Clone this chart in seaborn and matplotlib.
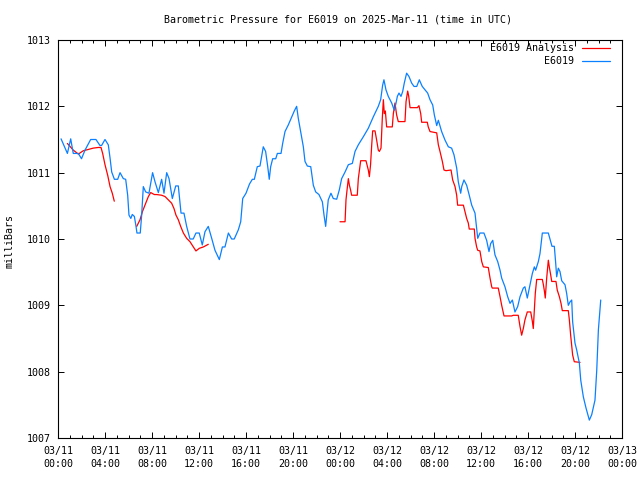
import matplotlib
matplotlib.use("Agg")
import matplotlib.pyplot as plt
from matplotlib.ticker import MultipleLocator
import seaborn as sns

# hours since 2025-03-11 00:00 UTC, pressure in mb
station_hours = [
    0.26, 0.80, 1.08, 1.30, 1.73, 2.00, 2.30, 2.78, 3.23, 3.57, 3.71, 4.00, 4.28, 4.43, 4.57,
    4.80, 5.08, 5.28, 5.56, 5.76, 5.93, 6.04, 6.20, 6.32, 6.50, 6.64, 6.72, 7.00, 7.12, 7.26,
    7.46, 7.74, 7.89, 8.05, 8.26, 8.54, 8.82, 9.02, 9.25, 9.45, 9.73, 10.02, 10.24, 10.47,
    10.72, 10.95, 11.23, 11.51, 11.74, 12.02, 12.28, 12.51, 12.79, 13.08, 13.36, 13.73, 13.99,
    14.21, 14.50, 14.78, 15.00, 15.35, 15.55, 15.72, 16.00, 16.30, 16.54, 16.71, 16.96, 17.19,
    17.47, 17.67, 17.85, 17.98, 18.10, 18.27, 18.53, 18.67, 18.98, 19.12, 19.32, 19.60, 19.89,
    20.11, 20.31, 20.45, 20.65, 20.88, 21.02, 21.22, 21.51, 21.73, 21.93, 22.21, 22.50, 22.64,
    22.78, 22.87, 23.00, 23.23, 23.43, 23.72, 23.94, 24.14, 24.43, 24.71, 25.05, 25.28, 25.56,
    25.98, 26.41, 26.83, 27.26, 27.46, 27.63, 27.74, 27.91, 28.11, 28.40, 28.62, 28.77, 28.88,
    29.02, 29.19, 29.33, 29.47, 29.67, 29.87, 30.10, 30.30, 30.53, 30.75, 31.00, 31.23, 31.46,
    31.66, 31.89, 32.03, 32.23, 32.37, 32.65, 32.94, 33.22, 33.50, 33.70, 33.93, 34.07, 34.27,
    34.36, 34.55, 34.78, 35.00, 35.21, 35.49, 35.63, 35.72, 35.91, 36.25, 36.48, 36.68, 36.82,
    37.00, 37.19, 37.42, 37.62, 37.76, 38.04, 38.27, 38.47, 38.67, 38.89, 39.12, 39.32, 39.60,
    39.74, 39.94, 40.17, 40.37, 40.54, 40.65, 40.88, 41.02, 41.22, 41.73, 41.93, 42.04, 42.24,
    42.36, 42.44, 42.58, 42.72, 42.87, 43.15, 43.29, 43.43, 43.57, 43.72, 43.80, 44.00, 44.14,
    44.37, 44.49, 44.71, 44.94, 45.22, 45.42, 45.70, 45.85, 45.99, 46.19,
]
station_mb = [
    1011.51, 1011.29, 1011.51, 1011.29, 1011.29, 1011.21, 1011.34, 1011.50, 1011.50, 1011.41,
    1011.41, 1011.50, 1011.42, 1011.22, 1011.01, 1010.90, 1010.90, 1011.00, 1010.91, 1010.90,
    1010.66, 1010.36, 1010.31, 1010.37, 1010.34, 1010.19, 1010.09, 1010.09, 1010.36, 1010.79,
    1010.71, 1010.69, 1010.84, 1011.00, 1010.86, 1010.70, 1010.90, 1010.69, 1011.00, 1010.91,
    1010.61, 1010.80, 1010.80, 1010.39, 1010.39, 1010.19, 1010.00, 1010.00, 1010.09, 1010.09,
    1009.91, 1010.11, 1010.19, 1010.01, 1009.83, 1009.69, 1009.88, 1009.88, 1010.09, 1010.00,
    1010.00, 1010.14, 1010.26, 1010.61, 1010.69, 1010.83, 1010.90, 1010.90, 1011.09, 1011.10,
    1011.39, 1011.32, 1011.09, 1010.90, 1011.09, 1011.21, 1011.21, 1011.29, 1011.29, 1011.44,
    1011.62, 1011.72, 1011.84, 1011.93, 1012.00, 1011.82, 1011.62, 1011.39, 1011.17, 1011.10,
    1011.09, 1010.81, 1010.71, 1010.67, 1010.56, 1010.36, 1010.19, 1010.36, 1010.59, 1010.69,
    1010.61, 1010.60, 1010.74, 1010.91, 1011.01, 1011.12, 1011.14, 1011.32, 1011.42, 1011.54,
    1011.67, 1011.84, 1012.00, 1012.10, 1012.32, 1012.40, 1012.25, 1012.15, 1012.05, 1011.94,
    1012.05, 1012.15, 1012.20, 1012.15, 1012.22, 1012.35, 1012.50, 1012.45, 1012.35, 1012.30,
    1012.30, 1012.40, 1012.30, 1012.25, 1012.20, 1012.10, 1012.02, 1011.87, 1011.71, 1011.79,
    1011.62, 1011.49, 1011.39, 1011.37, 1011.27, 1011.07, 1010.86, 1010.69, 1010.79, 1010.89,
    1010.81, 1010.66, 1010.51, 1010.39, 1010.16, 1010.01, 1010.09, 1010.09, 1009.98, 1009.81,
    1009.93, 1009.98, 1009.76, 1009.66, 1009.53, 1009.41, 1009.28, 1009.13, 1009.03, 1009.08,
    1008.90, 1008.98, 1009.13, 1009.26, 1009.28, 1009.11, 1009.31, 1009.48, 1009.58, 1009.53,
    1009.66, 1009.78, 1010.09, 1010.09, 1009.96, 1009.89, 1009.89, 1009.63, 1009.43, 1009.56,
    1009.51, 1009.37, 1009.31, 1009.18, 1009.00, 1009.05, 1009.08, 1008.75, 1008.43, 1008.33,
    1008.13, 1007.87, 1007.62, 1007.45, 1007.27, 1007.35, 1007.57, 1008.02, 1008.63, 1009.08,
]

# analysis has gaps, so it is kept as three runs
analysis1_hours = [0.80, 1.30, 1.73, 2.15, 2.58, 3.00, 3.43, 3.66, 3.80, 4.00, 4.23, 4.43, 4.62, 4.79]
analysis1_mb = [1011.44, 1011.34, 1011.28, 1011.33, 1011.35, 1011.37, 1011.38, 1011.38, 1011.29,
                1011.12, 1010.96, 1010.79, 1010.69, 1010.57]

analysis2_hours = [6.70, 6.98, 7.18, 7.40, 7.69, 7.89, 8.20, 8.40, 8.82, 9.11, 9.39, 9.67, 9.87,
                   10.04, 10.24, 10.44, 10.67, 10.95, 11.23, 11.52, 11.74, 12.03, 12.37, 12.79]
analysis2_mb = [1010.19, 1010.29, 1010.41, 1010.51, 1010.64, 1010.70, 1010.67, 1010.67, 1010.66,
                1010.64, 1010.59, 1010.54, 1010.46, 1010.36, 1010.29, 1010.19, 1010.09, 1010.01,
                1009.96, 1009.88, 1009.82, 1009.86, 1009.88, 1009.92]

analysis3_hours = [
    24.00, 24.43, 24.51, 24.60, 24.71, 24.80, 24.90, 24.99, 25.47, 25.56, 25.76, 26.21, 26.41,
    26.50, 26.60, 26.70, 26.78, 26.98, 27.12, 27.26, 27.35, 27.49, 27.60, 27.69, 27.77, 27.86,
    27.97, 28.45, 28.54, 28.68, 28.82, 28.96, 29.53, 29.62, 29.76, 29.85, 29.96, 30.58, 30.72,
    30.87, 30.95, 31.43, 31.51, 31.66, 32.23, 32.37, 32.51, 32.71, 32.85, 33.02, 33.45, 33.59,
    33.79, 33.93, 34.01, 34.50, 34.64, 34.78, 34.92, 35.00, 35.43, 35.49, 35.63, 35.72, 35.91,
    36.06, 36.20, 36.62, 36.77, 36.91, 36.96, 37.47, 37.62, 37.76, 37.96, 38.61, 38.75, 39.17,
    39.32, 39.46, 39.60, 39.74, 39.94, 40.23, 40.37, 40.45, 40.54, 40.62, 40.74, 41.22, 41.31,
    41.40, 41.47, 41.59, 41.73, 41.83, 41.93, 42.02, 42.38, 42.49, 42.67, 42.81, 42.92, 43.43,
    43.52, 43.63, 43.72, 43.80, 43.94, 44.43,
]
analysis3_mb = [
    1010.26, 1010.26, 1010.59, 1010.74, 1010.91, 1010.81, 1010.74, 1010.66, 1010.66, 1010.91,
    1011.18, 1011.18, 1011.04, 1010.94, 1011.12, 1011.42, 1011.63, 1011.63, 1011.49, 1011.34,
    1011.32, 1011.37, 1011.82, 1012.10, 1011.89, 1011.93, 1011.69, 1011.69, 1011.89, 1012.05,
    1011.87, 1011.77, 1011.77, 1012.07, 1012.23, 1012.15, 1011.98, 1011.98, 1012.01, 1011.89,
    1011.76, 1011.76, 1011.69, 1011.62, 1011.60, 1011.42, 1011.32, 1011.17, 1011.04, 1011.03,
    1011.04, 1010.89, 1010.79, 1010.66, 1010.51, 1010.51, 1010.41, 1010.31, 1010.24, 1010.15,
    1010.15, 1010.01, 1009.88, 1009.83, 1009.82, 1009.66, 1009.58, 1009.57, 1009.41, 1009.28,
    1009.26, 1009.26, 1009.13, 1009.00, 1008.84, 1008.84, 1008.85, 1008.85, 1008.68, 1008.55,
    1008.65, 1008.78, 1008.90, 1008.90, 1008.76, 1008.65, 1008.93, 1009.18, 1009.39, 1009.39,
    1009.31, 1009.21, 1009.11, 1009.41, 1009.68, 1009.56, 1009.46, 1009.36, 1009.36, 1009.23,
    1009.13, 1009.03, 1008.92, 1008.92, 1008.78, 1008.55, 1008.39, 1008.25, 1008.15, 1008.14,
]

tick_hours = list(range(0, 49, 4))
tick_labels = ["03/11\n00:00", "03/11\n04:00", "03/11\n08:00", "03/11\n12:00", "03/11\n16:00",
               "03/11\n20:00", "03/12\n00:00", "03/12\n04:00", "03/12\n08:00", "03/12\n12:00",
               "03/12\n16:00", "03/12\n20:00", "03/13\n00:00"]
y_ticks = [1007, 1008, 1009, 1010, 1011, 1012, 1013]


sns.set_theme(style="ticks")
plt.rcParams["font.family"] = ["DejaVu Sans Mono"]
plt.rcParams["font.size"] = 7.2
plt.rcParams["text.color"] = "black"
plt.rcParams["axes.edgecolor"] = "black"

fig = plt.figure(figsize=(6.4, 4.8), dpi=100)
ax = fig.add_axes([58 / 640, 1 - 438 / 480, 564 / 640, 398 / 480])

red = "#ff0000"
blue = "#0a80ff"
runs = [(analysis1_hours, analysis1_mb), (analysis2_hours, analysis2_mb), (analysis3_hours, analysis3_mb)]
for i, (hrs, mb) in enumerate(runs):
    sns.lineplot(x=hrs, y=mb, ax=ax, color=red, linewidth=0.9, estimator=None, sort=False,
                 label="E6019 Analysis" if i == 0 else None)
sns.lineplot(x=station_hours, y=station_mb, ax=ax, color=blue, linewidth=0.9, estimator=None,
             sort=False, label="E6019")

ax.set_xlim(0, 48)
ax.set_ylim(1007, 1013)
ax.set_xticks(tick_hours)
ax.set_xticklabels(tick_labels)
ax.xaxis.set_minor_locator(MultipleLocator(1))
ax.set_yticks(y_ticks)
ax.set_xlabel("")
ax.set_ylabel("")
for lab in ax.get_xticklabels():
    lab.set_linespacing(1.35)

for s in ax.spines.values():
    s.set_visible(True)
    s.set_linewidth(0.8)
    s.set_color("black")
ax.tick_params(which="both", direction="in", top=True, right=True, colors="black",
               labelsize=7.2, width=0.7)
ax.tick_params(which="major", length=4)
ax.tick_params(which="minor", length=2)
ax.tick_params(axis="x", pad=6)
ax.tick_params(axis="y", pad=5)

ax.legend(loc="upper right", bbox_to_anchor=(610 / 640, 1 - 43 / 480),
          bbox_transform=fig.transFigure, frameon=False, markerfirst=False,
          handlelength=2.8, handletextpad=0.8, labelspacing=0.3, borderpad=0,
          borderaxespad=0, fontsize=7.2)

fig.text(338 / 640, 1 - 19 / 480, "Barometric Pressure for E6019 on 2025-Mar-11 (time in UTC)",
         ha="center", va="center", fontsize=7.2)
fig.text(10 / 640, 1 - 241 / 480, "milliBars", rotation=90, ha="center", va="center", fontsize=7.2)

fig.savefig("out.png", dpi=100)
